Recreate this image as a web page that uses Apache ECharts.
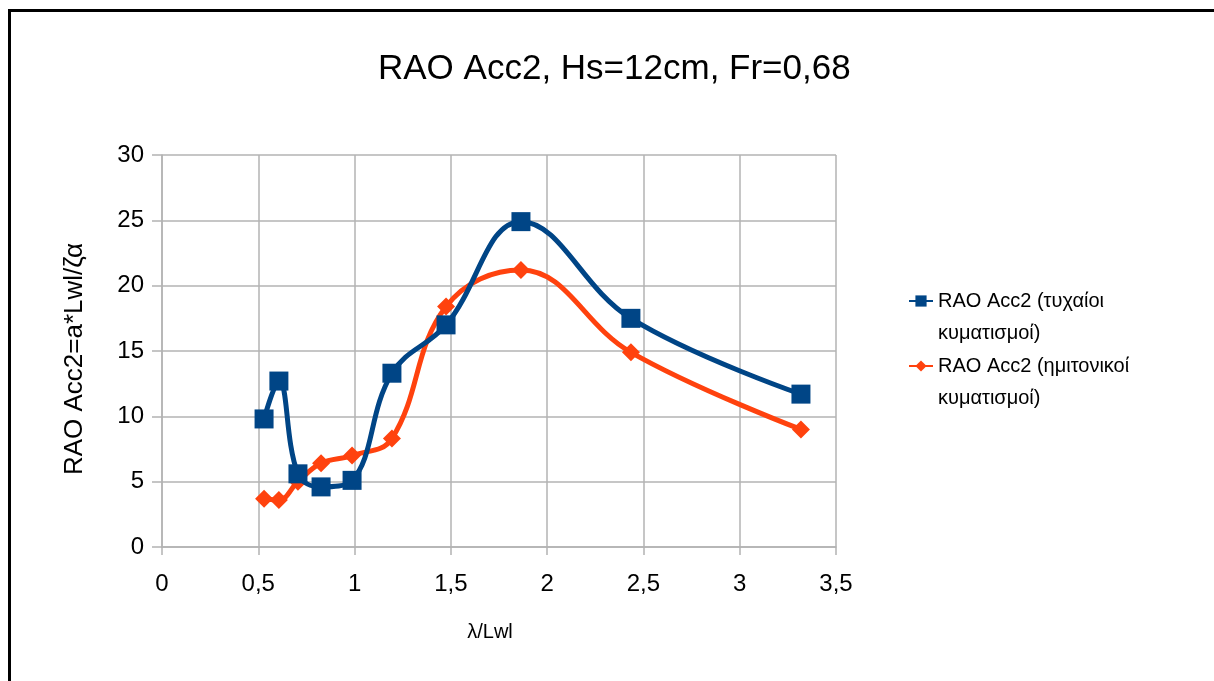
<!DOCTYPE html>
<html>
<head>
<meta charset="utf-8">
<script src="https://cdn.jsdelivr.net/npm/echarts@6/dist/echarts.min.js"></script>
<style>
  html, body { margin: 0; padding: 0; background: #ffffff; }
  #chart { width: 1214px; height: 681px; }
</style>
</head>
<body>
<div id="chart"></div>
<script>
// λ/Lwl values (shared by both measurement series)
const lambdaRatio = [0.53, 0.607, 0.706, 0.826, 0.987, 1.194, 1.475, 1.864, 2.435, 3.318];
// RAO Acc2 from irregular waves
const raoIrregular = [9.8, 12.7, 5.6, 4.6, 5.1, 13.3, 17.0, 24.9, 17.5, 11.7];
// RAO Acc2 from regular (sinusoidal) waves
const raoRegular = [3.7, 3.6, 5.0, 6.4, 7.0, 8.3, 18.4, 21.2, 14.9, 9.0];

const seriesNames = ['RAO Acc2 (τυχαίοι κυματισμοί)', 'RAO Acc2 (ημιτονικοί κυματισμοί)'];
// Legend entries wrap onto two lines; the leading blank line keeps the
// marker level with the first line of text.
const legendLines = {
  'RAO Acc2 (τυχαίοι κυματισμοί)': '\nRAO Acc2 (τυχαίοι\nκυματισμοί)',
  'RAO Acc2 (ημιτονικοί κυματισμοί)': '\nRAO Acc2 (ημιτονικοί\nκυματισμοί)'
};

const FONT = '"Liberation Sans", Arial, sans-serif';
const GRID = '#b3b3b3';

function pairs(xs, ys) { return xs.map((x, i) => [x, ys[i]]); }

const chart = echarts.init(document.getElementById('chart'), null, { renderer: 'canvas' });

chart.setOption({
  backgroundColor: '#ffffff',
  animation: false,
  title: {
    text: 'RAO Acc2, Hs=12cm, Fr=0,68',
    left: 373,
    top: 47,
    padding: 5,
    textStyle: { fontFamily: FONT, fontSize: 35, fontWeight: 'normal', color: '#000' }
  },
  graphic: [{
    type: 'rect',
    shape: { x: 9.5, y: 10.5, width: 1400, height: 1000 },
    style: { fill: 'none', stroke: '#000', lineWidth: 3 },
    silent: true,
    z: 100
  }],
  legend: {
    orient: 'vertical',
    left: 908,
    top: 253,
    padding: 0,
    itemGap: -31,
    itemWidth: 24,
    itemHeight: 14,
    formatter: name => legendLines[name],
    textStyle: { fontFamily: FONT, fontSize: 20, color: '#000', lineHeight: 32 },
    data: seriesNames
  },
  grid: { left: 162, right: 378, top: 155, bottom: 134, containLabel: false },
  xAxis: {
    type: 'value',
    min: 0, max: 3.5, interval: 0.5,
    name: 'λ/Lwl',
    nameLocation: 'middle',
    nameGap: 75,
    nameTextStyle: { fontFamily: FONT, fontSize: 20, color: '#000', padding: [0, 18, 0, 0] },
    axisLine: { show: true, lineStyle: { color: GRID, width: 1.5 } },
    axisTick: { show: true, length: 8, lineStyle: { color: GRID, width: 1.5 } },
    axisLabel: {
      fontFamily: FONT, fontSize: 24, color: '#000', margin: 25,
      formatter: v => String(v).replace('.', ',')
    },
    splitLine: { show: true, lineStyle: { color: GRID, width: 1.5 } }
  },
  yAxis: {
    type: 'value',
    min: 0, max: 30, interval: 5,
    name: 'RAO Acc2=a*Lwl/ζα',
    nameLocation: 'middle',
    nameGap: 74,
    nameTextStyle: { fontFamily: FONT, fontSize: 26, color: '#000', padding: [0, 16, 0, 0] },
    axisLine: { show: true, lineStyle: { color: GRID, width: 1.5 } },
    axisTick: { show: true, length: 10, lineStyle: { color: GRID, width: 1.5 } },
    axisLabel: { fontFamily: FONT, fontSize: 24, color: '#000', margin: 18 },
    splitLine: { show: true, lineStyle: { color: GRID, width: 1.5 } }
  },
  series: [
    {
      name: seriesNames[0],
      type: 'line',
      data: pairs(lambdaRatio, raoIrregular),
      smooth: 0.4,
      symbol: 'rect',
      symbolSize: 19,
      lineStyle: { color: '#004586', width: 5 },
      itemStyle: { color: '#004586' },
      z: 3
    },
    {
      name: seriesNames[1],
      type: 'line',
      data: pairs(lambdaRatio, raoRegular),
      smooth: 0.4,
      symbol: 'diamond',
      symbolSize: 18,
      lineStyle: { color: '#ff420e', width: 5 },
      itemStyle: { color: '#ff420e' },
      z: 2
    }
  ]
});
</script>
</body>
</html>
